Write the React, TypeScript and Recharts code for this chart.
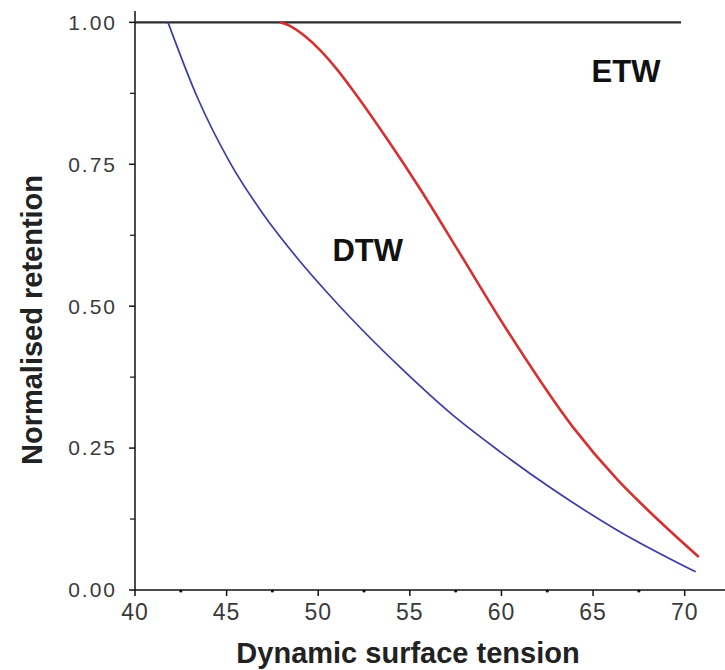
import React from "react";
import {
  LineChart, Line, XAxis, YAxis, ReferenceDot,
} from "recharts";

// flat reference line at 1.00 (black)
const flatX = [40, 69.8];
const flatY = [1, 1];

// blue curve
const blueX = [41.8, 43.4, 45.2, 47.0, 48.85, 50.66, 51.75, 54.48, 57.2, 59.95, 62.68, 66.34, 70.6];
const blueY = [1.0, 0.868, 0.752, 0.662, 0.585, 0.518, 0.48, 0.392, 0.312, 0.243, 0.18, 0.105, 0.032];

// red curve
const redX = [47.9, 48.5, 49.3, 50.1, 51.0, 51.9, 53.77, 55.57, 57.58, 60.3, 63.9, 66.34, 68.14, 70.77];
const redY = [1.0, 0.993, 0.975, 0.951, 0.918, 0.88, 0.794, 0.706, 0.601, 0.458, 0.287, 0.194, 0.136, 0.058];

const xMajor = [40, 45, 50, 55, 60, 65, 70];
const xMinor = [42.5, 47.5, 52.5, 57.5, 62.5, 67.5];
const yMajor = [0, 0.25, 0.5, 0.75, 1.0];
const yMinor = [0.125, 0.375, 0.625, 0.875];

const zip = (xs: number[], ys: number[]) => xs.map((x, i) => ({ x, y: ys[i] }));

const FONT = "'Liberation Sans', Arial, sans-serif";
const AXIS = "#111";
const TICK_TXT = "#3a3a3a";
const TICK_LEN = 6;
const TICK_GAP = 6;

function XTick({ x, y, payload }: any) {
  const axisY = y - TICK_LEN - TICK_GAP;
  const v = payload.value;
  if (!xMajor.includes(v)) {
    return <circle cx={x} cy={axisY + 1} r={1.6} fill={AXIS} />;
  }
  return (
    <g>
      <line x1={x} x2={x} y1={axisY} y2={axisY + TICK_LEN} stroke={AXIS} strokeWidth={1.5} />
      <text x={x} y={y} dy="0.8em" textAnchor="middle" fontFamily={FONT}
        fontSize={23} fill={TICK_TXT} letterSpacing={1}>{v}</text>
    </g>
  );
}

function YTick({ x, y, payload }: any) {
  const axisX = x + TICK_LEN + TICK_GAP;
  const v = payload.value;
  if (!yMajor.includes(v)) {
    return <line x1={axisX - 5} x2={axisX} y1={y} y2={y} stroke={AXIS} strokeWidth={1.2} />;
  }
  return (
    <g>
      <line x1={axisX - TICK_LEN} x2={axisX} y1={y} y2={y} stroke={AXIS} strokeWidth={1.5} />
      <text x={x - 6} y={y} dy="0.35em" textAnchor="end" fontFamily={FONT}
        fontSize={21} fill={TICK_TXT} letterSpacing={2}>{v.toFixed(2)}</text>
    </g>
  );
}

function XLabel({ viewBox }: any) {
  const cx = viewBox.x + viewBox.width / 2 - 22;
  return (
    <text x={cx} y={viewBox.y + viewBox.height - 7} textAnchor="middle"
      fontFamily={FONT} fontWeight="bold" fontSize={29} fill="#222">
      Dynamic surface tension
    </text>
  );
}

function YLabel() {
  return (
    <text x={0} y={0} transform="translate(42 320) rotate(-90)" textAnchor="middle"
      fontFamily={FONT} fontWeight="bold" fontSize={29} fill="#222">
      Normalised retention
    </text>
  );
}

export default function App() {
  return (
    <div style={{ position: "absolute", left: 0, top: 0, width: 725, height: 670, background: "#fff" }}>
      <LineChart width={725} height={670} margin={{ top: 11, right: 0, bottom: 0, left: 55 }}>
        <XAxis
          type="number" dataKey="x" domain={[40, 72.2]}
          ticks={[...xMajor, ...xMinor].sort((a, b) => a - b)}
          allowDataOverflow height={80} tickSize={TICK_LEN} tickMargin={TICK_GAP}
          axisLine={{ stroke: AXIS, strokeWidth: 1.5 }}
          tickLine={false}
          tick={<XTick />}
          label={<XLabel />}
        />
        <YAxis
          type="number" domain={[0, 1.02]}
          ticks={[...yMajor, ...yMinor].sort((a, b) => a - b)}
          width={80} allowDataOverflow tickSize={TICK_LEN} tickMargin={TICK_GAP}
          axisLine={{ stroke: AXIS, strokeWidth: 1.5 }}
          tickLine={false}
          tick={<YTick />}
          label={<YLabel />}
        />

        <Line data={zip(flatX, flatY)} dataKey="y" type="linear" stroke="#2b2b2b"
          strokeWidth={2.2} dot={false} isAnimationActive={false} />
        <Line data={zip(blueX, blueY)} dataKey="y" type="monotone" stroke="#3c3ca8"
          strokeWidth={1.7} dot={false} isAnimationActive={false} />
        <Line data={zip(redX, redY)} dataKey="y" type="monotone" stroke="#d63030"
          strokeWidth={2.6} dot={false} isAnimationActive={false} />

        <ReferenceDot x={66.8} y={0.915} r={0} fill="none" stroke="none"
          label={{ value: "ETW", position: "center", fontFamily: FONT, fontWeight: "bold", fontSize: 31, fill: "#111" }} />
        <ReferenceDot x={52.7} y={0.599} r={0} fill="none" stroke="none"
          label={{ value: "DTW", position: "center", fontFamily: FONT, fontWeight: "bold", fontSize: 31, fill: "#111" }} />
      </LineChart>
    </div>
  );
}
